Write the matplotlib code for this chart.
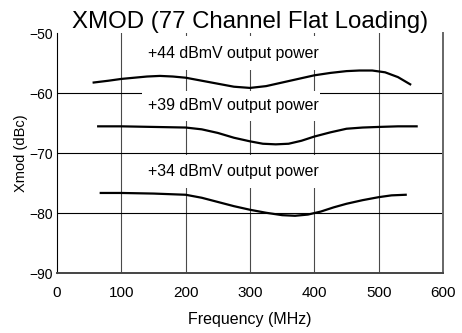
import matplotlib.pyplot as plt
from matplotlib.patches import Rectangle

plt.rcParams['font.family'] = ['Liberation Sans', 'DejaVu Sans']

# Curvas de XMOD por nivel de salida (frecuencia en MHz, XMOD en dBc)
freq_44 = [57, 80, 100, 120, 140, 160, 180, 200, 225, 250, 275, 300, 325, 350,
           375, 400, 425, 450, 470, 490, 510, 530, 549]
xmod_44 = [-58.2, -57.9, -57.6, -57.4, -57.2, -57.1, -57.2, -57.4, -57.9, -58.4,
           -58.9, -59.1, -58.8, -58.2, -57.6, -57.0, -56.6, -56.3, -56.2, -56.2,
           -56.5, -57.3, -58.5]

freq_39 = [64, 100, 150, 200, 225, 250, 275, 300, 320, 340, 360, 380, 400, 425,
           450, 475, 500, 530, 559]
xmod_39 = [-65.5, -65.5, -65.6, -65.7, -66.0, -66.6, -67.4, -68.0, -68.4, -68.5,
           -68.4, -67.9, -67.2, -66.5, -65.9, -65.7, -65.6, -65.5, -65.5]

freq_34 = [68, 100, 150, 200, 225, 250, 275, 300, 325, 350, 370, 390, 410, 430,
           450, 475, 500, 520, 542]
xmod_34 = [-76.6, -76.6, -76.7, -76.9, -77.4, -78.1, -78.8, -79.4, -79.9, -80.3,
           -80.4, -80.2, -79.7, -79.0, -78.4, -77.8, -77.3, -77.0, -76.9]

etiquetas = ["+44 dBmV output power", "+39 dBmV output power", "+34 dBmV output power"]
etiqueta_y = [-53.4, -62.1, -73.1]

fig = plt.figure(figsize=(4.62, 3.33), dpi=100)
ax = fig.add_axes([0.1234, 0.179, 0.8355, 0.721])
ax.set_xlim(0, 600)
ax.set_ylim(-90, -50)

# Rejilla dibujada a mano
for xv in [100, 200, 300, 400, 500]:
    ax.axvline(xv, color="#4a4a4a", lw=0.8, zorder=1)
for yv in [-60, -70, -80]:
    ax.axhline(yv, color="black", lw=0.8, zorder=1)

# Fondos blancos detras de las etiquetas
cajas = [(-56.1, -50.5), (-64.6, -59.6), (-75.8, -70.25)]
for y0, y1 in cajas:
    ax.add_patch(Rectangle((132, y0), 277, y1 - y0, facecolor="white",
                           edgecolor="none", zorder=2))

for txt, yv in zip(etiquetas, etiqueta_y):
    ax.text(274, yv, txt, ha="center", va="center", fontsize=11.4, zorder=3)

ax.plot(freq_44, xmod_44, color="black", lw=1.6, zorder=4)
ax.plot(freq_39, xmod_39, color="black", lw=1.6, zorder=4)
ax.plot(freq_34, xmod_34, color="black", lw=1.6, zorder=4)

ax.set_xticks([0, 100, 200, 300, 400, 500, 600])
ax.set_yticks([-90, -80, -70, -60, -50])
ax.tick_params(axis="x", length=0, pad=9, labelsize=11)
ax.tick_params(axis="y", length=0, pad=3, labelsize=10)

ax.spines["top"].set_visible(False)
ax.spines["left"].set_color("black")
ax.spines["left"].set_linewidth(0.8)
ax.spines["right"].set_color("#666666")
ax.spines["right"].set_linewidth(1.4)
ax.spines["bottom"].set_color("#444444")
ax.spines["bottom"].set_linewidth(1.4)

ax.set_xlabel("Frequency (MHz)", fontsize=11.5, labelpad=9)
ax.set_ylabel("Xmod (dBc)", fontsize=10.5, labelpad=1)
ax.set_title("XMOD (77 Channel Flat Loading)", fontsize=17.3, pad=3)

fig.savefig("out.png", dpi=100)
